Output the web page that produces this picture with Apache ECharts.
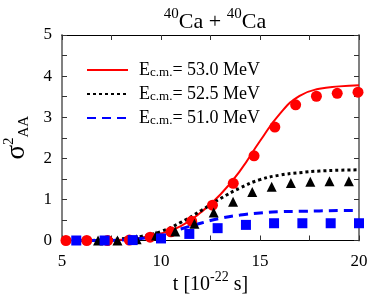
<!DOCTYPE html>
<html><head><meta charset="utf-8">
<script src="https://cdn.jsdelivr.net/npm/echarts@6/dist/echarts.min.js"></script>
<style>html,body{margin:0;padding:0;background:#fff}#c{width:375px;height:297px}</style>
</head><body><div id="c"></div>
<script>
// Model curves
var tLine = [5,6,7,8,9,10,11,12,13,14,15,16,17,18,19,20];
var line530 = [0,0,0.005,0.02,0.07,0.17,0.35,0.68,1.12,1.70,2.42,3.08,3.52,3.69,3.75,3.78];
var line525 = [0,0,0.01,0.04,0.10,0.22,0.44,0.72,1.02,1.28,1.48,1.59,1.65,1.69,1.71,1.72];
var line510 = [0,0,0,0.01,0.05,0.13,0.28,0.42,0.54,0.62,0.67,0.70,0.71,0.72,0.73,0.73];
// Symbols
var tCirc = [5.2,6.25,7.3,8.4,9.45,10.5,11.55,12.6,13.65,14.7,15.75,16.8,17.85,18.9,19.95];
var yCirc = [0,0,0,0.01,0.08,0.21,0.47,0.86,1.39,2.06,2.76,3.30,3.51,3.58,3.61];
var tTri = [6.82,7.8,8.77,9.75,10.72,11.69,12.66,13.64,14.61,15.59,16.56,17.54,18.51,19.49];
var yTri = [0,0,0.03,0.12,0.22,0.41,0.68,0.94,1.18,1.31,1.40,1.43,1.44,1.44];
var tSq = [5.72,7.15,8.57,10.0,11.43,12.86,14.29,15.71,17.14,18.57,20.0];
var ySq = [0,0,0.01,0.05,0.16,0.30,0.38,0.42,0.42,0.42,0.42];
var legendNames = ['53.0','52.5','51.0'];

function pairs(xs, ys){ return xs.map(function(x,i){return [x, ys[i]];}); }
var FONT = 'Liberation Serif';
var chart = echarts.init(document.getElementById('c'), null, {renderer:'canvas'});
function tickAxis(pos, showLabel, lineColor, lineWidth){
  return {
    position: pos,
    axisLine:{show:true, onZero:false, lineStyle:{color:lineColor, width:lineWidth}},
    axisTick:{show:true, inside:true, length:5, lineStyle:{color:'#333'}},
    minorTick:{show:true, splitNumber:2, length:5, lineStyle:{color:'#333'}},
    splitLine:{show:false},
    axisLabel:{show:showLabel, fontFamily:FONT, fontSize:17, color:'#000'}
  };
}
var xb = Object.assign({type:'value', min:5, max:20, interval:5}, tickAxis('bottom', true, '#000', 1));
xb.axisLabel.margin = 13;
xb.name = '{n|t [10}{sup|-22}{n| s]}';
xb.nameLocation = 'middle';
xb.nameGap = 30;
xb.nameMoveOverlap = false;
xb.nameTextStyle = {rich:{
  n:{fontFamily:FONT, fontSize:20, color:'#000', lineHeight:24, verticalAlign:'bottom'},
  sup:{fontFamily:FONT, fontSize:14, color:'#000', lineHeight:14, verticalAlign:'top'}
}};
var xt = Object.assign({type:'value', min:5, max:20, interval:5}, tickAxis('top', false, '#000', 1));
var yl = Object.assign({type:'value', min:0, max:5, interval:1}, tickAxis('left', true, '#808080', 2));
yl.axisLabel.margin = 10;
yl.name = '{s|σ}{sup|2}{sub|AA}';
yl.nameLocation = 'middle';
yl.nameRotate = 90;
yl.nameGap = 30;
yl.nameMoveOverlap = false;
yl.nameTextStyle = {rich:{
  s:{fontFamily:FONT, fontSize:27, color:'#000', lineHeight:30, verticalAlign:'middle'},
  sup:{fontFamily:FONT, fontSize:15, color:'#000', lineHeight:14, verticalAlign:'top'},
  sub:{fontFamily:FONT, fontSize:15, color:'#000', lineHeight:14, verticalAlign:'bottom'}
}};
var yr = Object.assign({type:'value', min:0, max:5, interval:1}, tickAxis('right', false, '#808080', 2));

var legendRich = {
  e0:{fontFamily:FONT, fontSize:18, color:'#000', lineHeight:18, verticalAlign:'top', padding:[0,0,0,6]},
  e:{fontFamily:FONT, fontSize:18, color:'#000', lineHeight:18, verticalAlign:'top'},
  sub:{fontFamily:FONT, fontSize:13, color:'#000', lineHeight:12, verticalAlign:'bottom', padding:[10,0,0,0]}
};
chart.setOption({
  animation:false,
  backgroundColor:'#fff',
  title:{
    text:'{sup|40}{n|Ca + }{sup|40}{n|Ca}',
    left:210, top:2, textAlign:'center',
    textStyle:{fontWeight:'normal', rich:{
      n:{fontFamily:FONT, fontWeight:'normal', fontSize:22, color:'#000', lineHeight:26, verticalAlign:'bottom'},
      sup:{fontFamily:FONT, fontWeight:'normal', fontSize:15, color:'#000', lineHeight:15, verticalAlign:'top'}
    }}
  },
  grid:{left:62, right:16, top:35, bottom:56.5, containLabel:false, outerBoundsMode:'none'},
  legend:{
    data:legendNames, orient:'vertical', left:86, top:56, padding:0,
    itemWidth:41, itemHeight:14, itemGap:1,
    itemStyle:{opacity:0},
    formatter:function(n){ return '{e0|E}{sub|c.m.}{e|= ' + n + ' MeV}'; },
    textStyle:{rich:legendRich}
  },
  xAxis:[xb, xt],
  yAxis:[yl, yr],
  series:[
    {name:legendNames[0], type:'line', data:pairs(tLine,line530), smooth:0.5, showSymbol:false, symbol:'none',
     lineStyle:{color:'#ff0000', width:2}, itemStyle:{color:'#ff0000'}, z:2},
    {name:legendNames[1], type:'line', data:pairs(tLine,line525), smooth:0.5, showSymbol:false, symbol:'none',
     lineStyle:{color:'#000', width:3, type:[3,3]}, itemStyle:{color:'#000'}, z:2},
    {name:legendNames[2], type:'line', data:pairs(tLine,line510), smooth:0.5, showSymbol:false, symbol:'none',
     lineStyle:{color:'#0000ff', width:3, type:[9,6]}, itemStyle:{color:'#0000ff'}, z:2},
    {name:'c', type:'scatter', data:pairs(tCirc,yCirc), symbol:'circle', symbolSize:11, itemStyle:{color:'#ff0000', opacity:1}, z:3},
    {name:'t', type:'scatter', data:pairs(tTri,yTri), symbol:'triangle', symbolSize:10, itemStyle:{color:'#000', opacity:1}, z:3},
    {name:'s', type:'scatter', data:pairs(tSq,ySq), symbol:'rect', symbolSize:10, itemStyle:{color:'#0000ff', opacity:1}, z:3}
  ]
});
</script></body></html>
